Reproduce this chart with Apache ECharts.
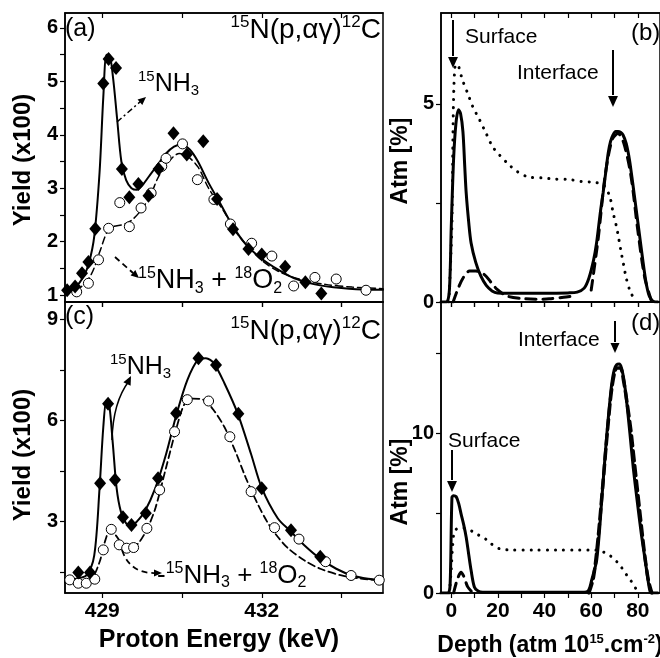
<!DOCTYPE html>
<html>
<head>
<meta charset="utf-8">
<script src="https://cdn.jsdelivr.net/npm/echarts@6/dist/echarts.min.js"></script>
<style>
  html, body { margin: 0; padding: 0; background: #fff; }
  #chart { width: 660px; height: 658px; }
</style>
</head>
<body>
<div id="chart"></div>
<script>
// ---- data ----
// (a) measured yields
const nh3DiamondA = [[428.34,1.09],[428.49,1.16],[428.62,1.41],[428.74,1.62],[428.87,2.24],[429.02,4.96],[429.12,5.42],[429.26,5.25],[429.37,3.36],[429.51,2.83],[429.68,3.08],[429.87,2.86],[430.06,3.36],[430.34,4.03],[430.59,3.63],[430.9,3.88],[431.16,2.8],[431.46,2.23],[431.75,1.86],[432.0,1.76],[432.44,1.53],[432.82,1.24],[433.12,1.03]];
const o2CircleA = [[428.52,1.06],[428.74,1.22],[428.93,1.66],[429.12,2.25],[429.33,2.73],[429.51,2.28],[429.73,2.63],[429.92,2.91],[430.12,3.41],[430.2,3.56],[430.51,3.83],[430.79,3.16],[431.1,2.79],[431.41,2.33],[431.81,1.97],[432.19,1.73],[432.6,1.17],[433.0,1.33],[433.4,1.3],[433.96,1.09]];
// (a) fits
const nh3FitA = [[428.3,1.05],[428.5,1.15],[428.65,1.35],[428.75,1.6],[428.85,2.1],[428.95,3.3],[429.02,4.7],[429.08,5.5],[429.13,5.5],[429.2,5.1],[429.28,4.3],[429.36,3.5],[429.45,3.15],[429.55,3.0],[429.65,2.97],[429.75,3.05],[429.9,3.25],[430.05,3.45],[430.2,3.65],[430.35,3.78],[430.5,3.82],[430.65,3.72],[430.8,3.5],[431.0,3.1],[431.2,2.75],[431.45,2.3],[431.7,1.95],[432.0,1.68],[432.3,1.48],[432.6,1.32],[433.0,1.2],[433.5,1.13],[434.0,1.1],[434.28,1.1]];
const o2FitA = [[428.3,1.05],[428.6,1.15],[428.8,1.4],[428.95,1.8],[429.1,2.2],[429.2,2.28],[429.4,2.32],[429.55,2.4],[429.7,2.55],[429.9,2.85],[430.05,3.2],[430.25,3.5],[430.45,3.65],[430.6,3.6],[430.8,3.4],[431.0,3.0],[431.3,2.55],[431.5,2.2],[431.75,1.9],[432.0,1.65],[432.3,1.45],[432.7,1.3],[433.2,1.2],[433.7,1.15],[434.28,1.12]];
// (c) measured yields
const nh3DiamondC = [[428.55,1.49],[428.77,1.49],[428.96,4.14],[429.11,6.5],[429.24,4.24],[429.39,3.13],[429.55,2.9],[429.82,3.25],[430.05,4.29],[430.39,6.22],[430.81,7.85],[431.14,7.65],[431.56,6.2],[432.0,3.99],[432.55,2.74],[433.1,1.96]];
const o2CircleC = [[428.39,1.27],[428.55,1.17],[428.7,1.17],[428.86,1.29],[429.02,2.16],[429.17,2.77],[429.32,2.31],[429.46,2.21],[429.59,2.23],[429.84,2.8],[430.08,3.94],[430.36,5.67],[430.6,6.62],[431.0,6.58],[431.4,5.52],[431.8,3.89],[432.24,2.82],[432.7,2.48],[433.2,1.81],[433.68,1.4],[434.21,1.26]];
// (c) fits
const nh3FitC = [[428.3,1.25],[428.5,1.3],[428.7,1.4],[428.85,2.0],[428.95,4.0],[429.02,5.8],[429.08,6.6],[429.13,6.5],[429.2,5.3],[429.27,4.0],[429.35,3.3],[429.45,2.95],[429.55,2.88],[429.65,3.0],[429.8,3.3],[430.0,4.0],[430.2,5.0],[430.4,6.2],[430.6,7.2],[430.8,7.8],[430.95,7.85],[431.1,7.7],[431.3,7.1],[431.55,6.2],[431.8,5.0],[432.0,4.0],[432.3,3.1],[432.55,2.7],[432.8,2.3],[433.1,1.9],[433.4,1.6],[433.7,1.4],[434.0,1.3],[434.28,1.25]];
const o2FitC = [[428.3,1.2],[428.6,1.2],[428.8,1.3],[428.95,1.8],[429.05,2.4],[429.15,2.75],[429.25,2.6],[429.4,2.3],[429.55,2.2],[429.7,2.4],[429.85,2.8],[430.0,3.4],[430.2,4.6],[430.4,5.8],[430.55,6.5],[430.7,6.65],[430.9,6.62],[431.1,6.3],[431.3,5.8],[431.5,5.1],[431.7,4.3],[431.9,3.6],[432.1,3.0],[432.3,2.55],[432.5,2.2],[432.8,1.85],[433.1,1.6],[433.5,1.4],[433.9,1.3],[434.28,1.25]];
// (b) depth profiles
const solidB = [[-4.4,0],[-2,0],[-0.8,0.3],[0,1.9],[1,3.6],[2,4.5],[3.1,4.85],[4,4.75],[5,4.3],[5.8,3.4],[6.4,2.75],[7.5,2.0],[8.5,1.49],[10.5,1.0],[12.7,0.65],[15,0.42],[17.5,0.28],[19.8,0.23],[30,0.22],[40,0.22],[50,0.23],[54,0.25],[57,0.35],[59,0.6],[61,1.05],[62.3,1.49],[64,2.3],[65.1,2.75],[66.3,3.3],[67.3,3.76],[68.3,4.05],[69.4,4.22],[70.5,4.3],[71.5,4.3],[72.6,4.28],[73.6,4.22],[75,4.0],[76.4,3.59],[77.8,3.0],[79.3,2.33],[80.7,1.7],[82.1,1.07],[83.5,0.5],[84.9,0.15],[86.5,0.02],[88.6,0]];
const dashSurfB = [[0.8,0],[2.8,0.32],[5,0.6],[7.8,0.78],[10.5,0.78],[14.2,0.69],[17,0.5],[19.8,0.31],[24,0.15],[29.7,0.09],[36.8,0.07],[42,0.08],[48.2,0.12],[52,0.15]];
const dashIntB = [[60,0.3],[63,1.6],[66,3.2],[69,4.1],[71.5,4.25],[74,4.0],[77,3.2],[80,1.8],[83,0.6],[86,0]];
const dotB = [[-1,0],[0.3,2],[0.8,4.5],[1.5,5.9],[2.5,6.0],[4.8,5.6],[7,5.27],[9.2,4.93],[12.1,4.6],[14.9,4.26],[17.7,3.92],[20.5,3.72],[24.8,3.46],[28.3,3.29],[33.3,3.15],[38.9,3.13],[44.6,3.1],[50.3,3.09],[55.9,3.04],[60.9,3.02],[65.1,2.96],[67.9,2.67],[69.4,2.25],[70.8,1.91],[71.9,1.57],[72.9,1.24],[73.9,0.94],[75,0.61],[76.7,0.27],[79,0.02]];
// (d) depth profiles
const solidD = [[-4.4,0],[-1.4,0],[-0.5,0.5],[0.3,6.0],[1,6.1],[2.1,6.04],[3.2,5.6],[4.2,4.96],[5.3,4.3],[6.4,3.5],[7.5,2.4],[8.5,1.42],[9.9,0.38],[11.5,0.12],[13.5,0.05],[30,0.05],[50,0.05],[57,0.05],[58.9,0.17],[60.2,0.8],[61.3,1.4],[62.3,2.0],[63.5,3.8],[64.5,5.8],[65.6,7.9],[66.7,9.96],[67.8,11.7],[68.8,13.1],[69.9,14.0],[70.9,14.3],[72,14.35],[73,14.1],[74.1,13.3],[75.2,12.0],[76.6,10.0],[78,7.9],[79.7,5.8],[81.5,3.7],[83.3,1.9],[85.1,0.17],[86,0],[88.6,0]];
const dashSurfD = [[1,0],[2.5,0.8],[4.2,1.3],[5.5,1.0],[7,0.4],[9,0.05]];
const dashIntD = [[59,0],[61,1.0],[63,3.5],[65,6.8],[67,10.2],[69,13.0],[71,14.1],[72.5,14.1],[74,13.2],[75.5,11.8],[77,10.2],[78.5,8.2],[80,6.2],[81.5,4.2],[83,2.3],[84.5,0.8],[86,0]];
const dotD = [[-0.8,0],[0,1.5],[0.6,3.0],[1.5,3.9],[4,4.1],[7,4.0],[9.2,3.85],[11.5,3.65],[13.5,3.5],[15.5,3.3],[17,3.1],[19,2.9],[21.2,2.75],[25,2.7],[35,2.7],[45,2.7],[55,2.7],[60,2.7],[63,2.65],[65.5,2.55],[67.9,2.36],[70,2.1],[71.5,1.88],[73,1.6],[74.3,1.31],[75.7,1.03],[77.1,0.75],[78.6,0.4],[80,0.1],[81,0]];

// ticks
const energyTicks = [429, 430.5, 432, 433.5];
const energyLabels = [429, 432];
const depthTicks = [0, 10, 20, 30, 40, 50, 60, 70, 80];
const depthLabels = [0, 20, 40, 60, 80];
const yTicksA = [1, 1.5, 2, 2.5, 3, 3.5, 4, 4.5, 5, 5.5, 6];
const yLabelsA = [1, 2, 3, 4, 5, 6];
const yTicksC = [1.5, 3, 4.5, 6, 7.5, 9];
const yLabelsC = [3, 6, 9];
const yTicksB = [0, 2.5, 5];
const yLabelsB = [0, 5];
const yTicksD = [0, 5, 10, 15];
const yLabelsD = [0, 10];

const FONT = '"Liberation Sans", Arial, sans-serif';

let chart = echarts.init(document.getElementById('chart'));

function xAx(grid, pos, min, max, ticks, labels) {
  return {
    type: 'value', gridIndex: grid, position: pos, min: min, max: max,
    axisLine: { show: true, onZero: false, lineStyle: { color: '#000', width: 1.5 } },
    axisTick: { show: true, customValues: ticks, inside: pos === 'top', length: 5, lineStyle: { color: '#000', width: 1.2 } },
    axisLabel: labels.length ? { show: true, customValues: labels, color: '#000', fontFamily: FONT, fontWeight: 'bold', fontSize: 21, margin: 8 } : { show: false },
    splitLine: { show: false }
  };
}
function yAx(grid, min, max, ticks, labels) {
  return {
    type: 'value', gridIndex: grid, min: min, max: max,
    axisLine: { show: true, onZero: false, lineStyle: { color: '#000', width: 1.5 } },
    axisTick: { show: true, customValues: ticks, length: 5, lineStyle: { color: '#000', width: 1.2 } },
    axisLabel: { show: true, customValues: labels, color: '#000', fontFamily: FONT, fontWeight: 'bold', fontSize: 20, margin: 7 },
    splitLine: { show: false }
  };
}
function line(data, xi, yi, width, type) {
  return {
    type: 'line', data: data, xAxisIndex: xi, yAxisIndex: yi, smooth: 0.3,
    showSymbol: false, silent: true,
    lineStyle: { color: '#000', width: width, type: type || 'solid', cap: 'round', opacity: 1 }
  };
}
function diamonds(data, xi, yi) {
  return { type: 'scatter', data: data, xAxisIndex: xi, yAxisIndex: yi, symbol: 'diamond', symbolSize: [12, 14],
    itemStyle: { color: '#000', opacity: 1 }, z: 4 };
}
function circles(data, xi, yi) {
  return { type: 'scatter', data: data, xAxisIndex: xi, yAxisIndex: yi, symbol: 'circle', symbolSize: 10,
    itemStyle: { color: '#fff', borderColor: '#000', borderWidth: 1, opacity: 1 }, z: 3 };
}

// annotation helpers
function txt(x, y, text, size, opts) {
  return { type: 'text', x: x, y: y, z: 100, style: Object.assign({ text: text, fill: '#000', fontFamily: FONT, fontSize: size, align: 'left', verticalAlign: 'middle' }, opts || {}) };
}
function chem(x, y, text, big, small, align) {
  return txt(x, y, text, big, {
    align: align || 'left',
    rich: {
      m: { fontSize: big, fontFamily: FONT, lineHeight: big + 4, verticalAlign: 'middle' },
      u: { fontSize: small, fontFamily: FONT, lineHeight: small - 2, verticalAlign: 'top' },
      d: { fontSize: small, fontFamily: FONT, lineHeight: small - 6, verticalAlign: 'bottom' }
    }
  });
}
function head(x1, y1, x2, y2, size) {
  let a = Math.atan2(y2 - y1, x2 - x1), s = size || 9, w = s * 0.45;
  return { type: 'polygon', z: 100, shape: { points: [
      [x2, y2],
      [x2 - s * Math.cos(a) + w * Math.sin(a), y2 - s * Math.sin(a) - w * Math.cos(a)],
      [x2 - s * Math.cos(a) - w * Math.sin(a), y2 - s * Math.sin(a) + w * Math.cos(a)]
    ] }, style: { fill: '#000' } };
}
function seg(x1, y1, x2, y2, width, dash) {
  return { type: 'line', z: 100, shape: { x1: x1, y1: y1, x2: x2, y2: y2 },
    style: { stroke: '#000', lineWidth: width, lineDash: dash || null } };
}
function curve(x1, y1, cx, cy, x2, y2, width, dash) {
  return { type: 'bezierCurve', z: 100, shape: { x1: x1, y1: y1, cpx1: cx, cpy1: cy, x2: x2, y2: y2 },
    style: { stroke: '#000', fill: null, lineWidth: width, lineDash: dash || null } };
}
function vtitle(x, y, text, size) {
  let t = txt(x, y, text, size, { align: 'center', fontWeight: 'bold' });
  t.rotation = Math.PI / 2;
  return t;
}

const gridBox = { show: true, borderColor: '#000', borderWidth: 1.5, backgroundColor: 'transparent' };

chart.setOption({
  backgroundColor: '#fff',
  animation: false,
  grid: [
    Object.assign({ left: 65, top: 13, width: 318, height: 289 }, gridBox),
    Object.assign({ left: 65, top: 302, width: 318, height: 291 }, gridBox),
    Object.assign({ left: 441, top: 13, width: 221, height: 289 }, gridBox),
    Object.assign({ left: 441, top: 302, width: 221, height: 291 }, gridBox)
  ],
  xAxis: [
    xAx(0, 'bottom', 428.3, 434.28, energyTicks, []),
    xAx(0, 'top', 428.3, 434.28, energyTicks, []),
    xAx(1, 'bottom', 428.3, 434.28, energyTicks, energyLabels),
    xAx(1, 'top', 428.3, 434.28, energyTicks, []),
    xAx(2, 'bottom', -4.4, 89.5, depthTicks, []),
    xAx(2, 'top', -4.4, 89.5, depthTicks, []),
    xAx(3, 'bottom', -4.4, 89.5, depthTicks, depthLabels),
    xAx(3, 'top', -4.4, 89.5, depthTicks, [])
  ],
  yAxis: [
    yAx(0, 0.87, 6.28, yTicksA, yLabelsA),
    yAx(1, 0.88, 9.52, yTicksC, yLabelsC),
    yAx(2, 0, 7.29, yTicksB, yLabelsB),
    yAx(3, 0, 18.24, yTicksD, yLabelsD)
  ],
  series: [
    line(o2FitA, 0, 0, 1.5, [7, 4]),
    line(nh3FitA, 0, 0, 2),
    circles(o2CircleA, 0, 0),
    diamonds(nh3DiamondA, 0, 0),
    line(o2FitC, 2, 1, 1.8, [7, 4]),
    line(nh3FitC, 2, 1, 2),
    circles(o2CircleC, 2, 1),
    diamonds(nh3DiamondC, 2, 1),
    line(dotB, 4, 2, 3, [0.1, 8]),
    line(dashSurfB, 4, 2, 3, [10, 7]),
    line(dashIntB, 4, 2, 3, [10, 7]),
    line(solidB, 4, 2, 3),
    line(dotD, 6, 3, 3, [0.1, 8]),
    line(dashSurfD, 6, 3, 3, [10, 7]),
    line(dashIntD, 6, 3, 3.5, [10, 5]),
    line(solidD, 6, 3, 3)
  ],
  graphic: [
    // panel (a)
    txt(65, 29, '(a)', 25),
    chem(381, 30, '{u|15}{m|N(p,αγ)}{u|12}{m|C}', 28, 17, 'right'),
    chem(138, 84, '{u|15}{m|NH}{d|3}', 25, 15),
    chem(138, 281, '{u|15}{m|NH}{d|3}{m| + }{u|18}{m|O}{d|2}', 27, 16),
    seg(117, 122, 141, 101, 1.5, [6, 3, 2, 3]), head(117, 122, 146, 97, 8),
    seg(115, 257, 133, 273, 1.8, [6, 4]), head(115, 257, 139, 278, 8),
    // panel (c)
    txt(65, 317, '(c)', 25),
    chem(381, 331, '{u|15}{m|N(p,αγ)}{u|12}{m|C}', 28, 17, 'right'),
    chem(110, 367, '{u|15}{m|NH}{d|3}', 25, 15),
    chem(157, 576, '{m|-}{u|15}{m|NH}{d|3}{m| + }{u|18}{m|O}{d|2}', 26, 16),
    curve(112, 440, 113, 402, 129, 381, 1.5), head(126, 386, 131, 376, 9),
    curve(122, 550, 130, 574, 156, 573, 1.8, [6, 4]), head(150, 573, 162, 573, 8),
    // panel (b)
    txt(465, 37, 'Surface', 21),
    txt(631, 33, '(b)', 24),
    txt(517, 73, 'Interface', 21),
    seg(453, 20, 453, 56, 2), head(453, 50, 453, 68, 11),
    seg(613, 50, 613, 95, 2), head(613, 90, 613, 107, 11),
    // panel (d)
    txt(631, 323, '(d)', 24),
    txt(518, 340, 'Interface', 21),
    txt(448, 441, 'Surface', 21),
    seg(615, 321, 615, 342, 2), head(615, 337, 615, 353, 10),
    seg(452, 450, 452, 480, 2), head(452, 475, 452, 492, 11),
    // axis titles
    vtitle(23, 160, 'Yield (x100)', 24),
    vtitle(23, 455, 'Yield (x100)', 24),
    vtitle(401, 161, 'Atm [%]', 23),
    vtitle(401, 482, 'Atm [%]', 23),
    txt(219, 640, 'Proton Energy (keV)', 25, { align: 'center', fontWeight: 'bold' }),
    txt(550, 646, '{t|Depth (atm 10}{s|15}{t|.cm}{s|-2}{t|)}', 23, {
      align: 'center',
      rich: {
        t: { fontSize: 23, fontFamily: FONT, fontWeight: 'bold', lineHeight: 26, verticalAlign: 'middle' },
        s: { fontSize: 13, fontFamily: FONT, fontWeight: 'bold', lineHeight: 12, verticalAlign: 'top' }
      }
    })
  ]
});

window.addEventListener('resize', () => {
  chart.resize();
});
</script>
</body>
</html>
